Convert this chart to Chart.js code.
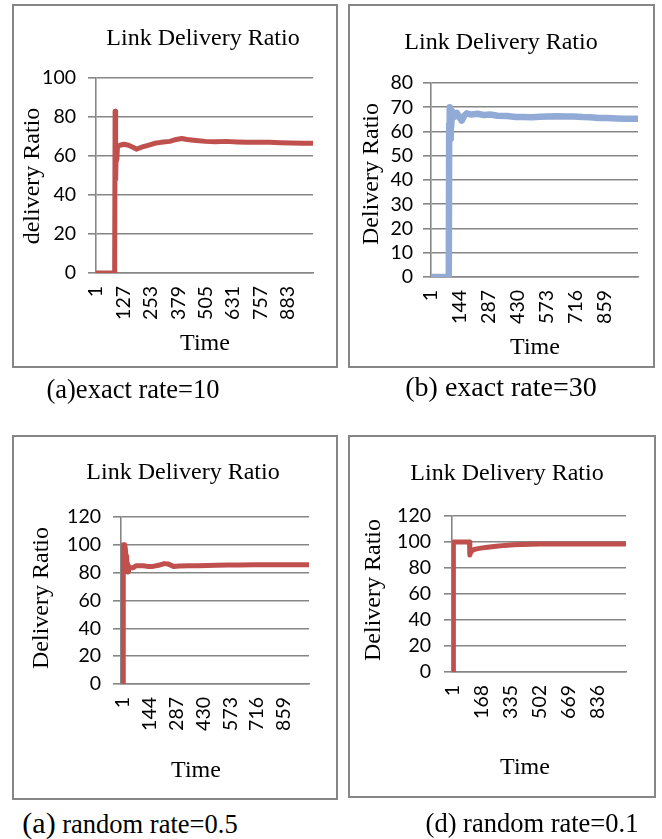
<!DOCTYPE html>
<html>
<head>
<meta charset="utf-8">
<title>Link Delivery Ratio</title>
<script src="https://cdn.jsdelivr.net/npm/chart.js@4.4.1/dist/chart.umd.min.js"></script>
<style>
  html, body { margin: 0; padding: 0; background: #fff; }
  body { width: 662px; height: 839px; position: relative; overflow: hidden;
         font-family: "Liberation Serif", "Times New Roman", serif; color: #000; }
  .frame { position: absolute; box-sizing: border-box; border: 2px solid #868686; pointer-events: none; }
  canvas.panel { position: absolute; }
  .txt { position: absolute; white-space: nowrap; line-height: 1; transform: translate(-50%, -50%); }
  .rot { transform: translate(-50%, -50%) rotate(-90deg); }
</style>
</head>
<body>
<script>
// ---- (a) exact rate = 10 ----
const timeA  = [1, 86, 88, 90, 91, 93, 96, 99, 110, 130, 150, 170, 186, 210, 240, 270, 300, 340, 370, 395,
                420, 460, 505, 550, 600, 650, 700, 750, 800, 850, 900, 950, 1000];
const ratioA = [0, 0, 83, 60, 48, 62, 58, 65, 65.5, 66, 65.5, 64.5, 63.5, 64.5, 65.5, 66.5, 67, 67.5, 68.5, 69,
                68.5, 68, 67.5, 67.3, 67.5, 67.2, 67, 67, 67, 66.8, 66.7, 66.5, 66.5];
const xTicksA = [1, 127, 253, 379, 505, 631, 757, 883];

// ---- (b) exact rate = 30 ----
const timeB  = [1, 88, 90, 91, 93, 94, 96, 98, 100, 104, 115, 128, 140, 152, 165, 177, 200, 230, 260, 293,
                330, 376, 420, 458, 500, 541, 580, 624, 670, 707, 750, 789, 830, 872, 920, 955, 1000, 1025];
const ratioB = [0, 0, 63, 70, 60, 66, 57, 68, 62, 68.5, 66, 67.7, 66, 64.5, 66.5, 67.5, 67, 67.3, 66.8, 67,
                66.5, 66.4, 66, 66, 65.9, 66.1, 66.2, 66.3, 66.2, 66.2, 66, 65.9, 65.6, 65.6, 65.4, 65.3, 65.3, 65.3];
const xTicksB = [1, 144, 287, 430, 573, 716, 859];

// ---- (c) random rate = 0.5 ----
const timeC  = [1, 2, 10, 14, 18, 20, 23, 27, 30, 34, 45, 55, 70, 90, 110, 130, 160, 190, 220, 240,
                270, 300, 350, 400, 450, 500, 560, 620, 700, 780, 860, 940, 992];
const ratioC = [0, 100, 100, 96, 86, 92, 80.5, 86, 81, 84, 83.5, 83.5, 85, 85, 85, 84.5, 84.5, 85.3, 86.5, 86.3,
                84.5, 84.8, 85, 85, 85.2, 85.3, 85.5, 85.5, 85.6, 85.6, 85.6, 85.6, 85.6];
const xTicksC = [1, 144, 287, 430, 573, 716, 859];

// ---- (d) random rate = 0.1 ----
const timeD  = [1, 2, 95, 97, 100, 110, 130, 160, 200, 250, 300, 350, 400, 450, 500, 600, 700, 800, 900, 999];
const ratioD = [0, 100, 100, 90, 91.5, 93.5, 94.5, 95.3, 96, 96.8, 97.4, 97.8, 98, 98.2, 98.4, 98.5, 98.5, 98.5, 98.5, 98.5];
const xTicksD = [1, 168, 335, 502, 669, 836];

const chartTitle = 'Link Delivery Ratio';
const GRID = '#868686';
const RED = '#C0504D';
const BLUE = '#92ABD6';

// frame: outer box of each panel; plot: left, top, right, bottom of the plotting area
const panels = [
  { time: timeA, ratio: ratioA, xTicks: xTicksA, xMin: 0,   xMax: 1000, yMax: 100, yStep: 20,
    color: RED, width: 5, frame: [12, 4, 326, 364], plot: [96, 78, 313, 273], yPad: 12,
    yTitle: 'delivery Ratio', yTitlePos: [31, 176], xTitlePos: [205, 342],
    titlePos: [203, 37], caption: '(a)exact rate=10', capSize: 26.5, capPos: [133, 389] },
  { time: timeB, ratio: ratioB, xTicks: xTicksB, xMin: 0,   xMax: 1025, yMax: 80, yStep: 10,
    color: BLUE, width: 6.5, frame: [348, 4, 307, 364], plot: [431, 83, 638, 277], yPad: 10,
    yTitle: 'Delivery Ratio', yTitlePos: [370, 174], xTitlePos: [535, 346],
    titlePos: [501, 41], caption: '(b) exact rate=30', capSize: 28, capPos: [501, 387] },
  { time: timeC, ratio: ratioC, xTicks: xTicksC, xMin: -10, xMax: 992, yMax: 120, yStep: 20,
    color: RED, width: 5, frame: [12, 435, 326, 365], plot: [121, 517, 309, 684], yPad: 12,
    yTitle: 'Delivery Ratio', yTitlePos: [40, 598], xTitlePos: [196, 769],
    titlePos: [183, 471], caption: null, capSize: 26.5, capPos: [130, 823] },
  { time: timeD, ratio: ratioD, xTicks: xTicksD, xMin: -6,  xMax: 999, yMax: 120, yStep: 20,
    color: RED, width: 5, frame: [348, 435, 308, 363], plot: [452, 516, 626, 672], yPad: 13,
    yTitle: 'Delivery Ratio', yTitlePos: [372, 590], xTitlePos: [525, 766],
    titlePos: [507, 472], caption: '(d) random rate=0.1', capSize: 26.5, capPos: [532, 823] }
];

function addText(text, x, y, size, cls) {
  const d = document.createElement('div');
  d.className = 'txt' + (cls ? ' ' + cls : '');
  d.style.left = x + 'px';
  d.style.top = y + 'px';
  d.style.fontSize = size + 'px';
  if (typeof text === 'string') d.textContent = text; else d.appendChild(text);
  document.body.appendChild(d);
  return d;
}

function buildPanel(p) {
  const [fx, fy, fw, fh] = p.frame;
  const area = { left: p.plot[0] - fx, top: p.plot[1] - fy, right: p.plot[2] - fx, bottom: p.plot[3] - fy };

  const cv = document.createElement('canvas');
  cv.className = 'panel';
  cv.width = fw; cv.height = fh;
  cv.style.left = fx + 'px'; cv.style.top = fy + 'px';
  cv.style.width = fw + 'px'; cv.style.height = fh + 'px';
  document.body.appendChild(cv);

  const fr = document.createElement('div');
  fr.className = 'frame';
  fr.style.left = fx + 'px'; fr.style.top = fy + 'px';
  fr.style.width = fw + 'px'; fr.style.height = fh + 'px';
  document.body.appendChild(fr);

  const tickFont = { family: 'Lato, "Liberation Sans", sans-serif', size: 19.5 };

  new Chart(cv.getContext('2d'), {
    type: 'line',
    data: {
      datasets: [{
        data: p.time.map((t, i) => ({ x: t, y: p.ratio[i] })),
        borderColor: p.color,
        borderWidth: p.width,
        pointRadius: 0,
        tension: 0,
        fill: false,
        borderJoinStyle: 'round',
        borderCapStyle: 'round'
      }]
    },
    options: {
      responsive: false,
      animation: false,
      devicePixelRatio: 1,
      layout: { padding: { left: 0, top: area.top, right: fw - area.right, bottom: 0 } },
      plugins: { legend: { display: false }, tooltip: { enabled: false }, title: { display: false } },
      scales: {
        x: {
          type: 'linear',
          min: p.xMin,
          max: p.xMax,
          grid: { display: false, drawTicks: false },
          border: { display: true, color: GRID, width: 1.6 },
          afterBuildTicks: s => { s.ticks = p.xTicks.map(v => ({ value: v })); },
          afterFit: s => { s.height = fh - area.bottom; },
          ticks: {
            autoSkip: false, minRotation: 90, maxRotation: 90, padding: 13,
            font: tickFont, color: '#000', callback: v => String(v)
          }
        },
        y: {
          min: 0,
          max: p.yMax,
          afterFit: s => { s.width = area.left; },
          grid: { color: GRID, lineWidth: 1.6, drawTicks: true, tickLength: 8 },
          border: { display: true, color: GRID, width: 1.6 },
          ticks: { stepSize: p.yStep, autoSkip: false, padding: p.yPad, font: tickFont, color: '#000' }
        }
      }
    }
  });

  addText(chartTitle, p.titlePos[0], p.titlePos[1], 24);
  addText(p.yTitle, p.yTitlePos[0], p.yTitlePos[1], 24, 'rot');
  addText('Time', p.xTitlePos[0], p.xTitlePos[1], 24);
  if (p.caption) addText(p.caption, p.capPos[0], p.capPos[1], p.capSize);
}

panels.forEach(buildPanel);

// caption of the third panel: its label letter is set a little larger
(function () {
  const span = document.createElement('span');
  const lead = document.createElement('span');
  lead.style.fontSize = '30px';
  lead.textContent = '(a)';
  span.appendChild(lead);
  span.appendChild(document.createTextNode(' random rate=0.5'));
  addText(span, panels[2].capPos[0], panels[2].capPos[1], panels[2].capSize);
})();
</script>
</body>
</html>
